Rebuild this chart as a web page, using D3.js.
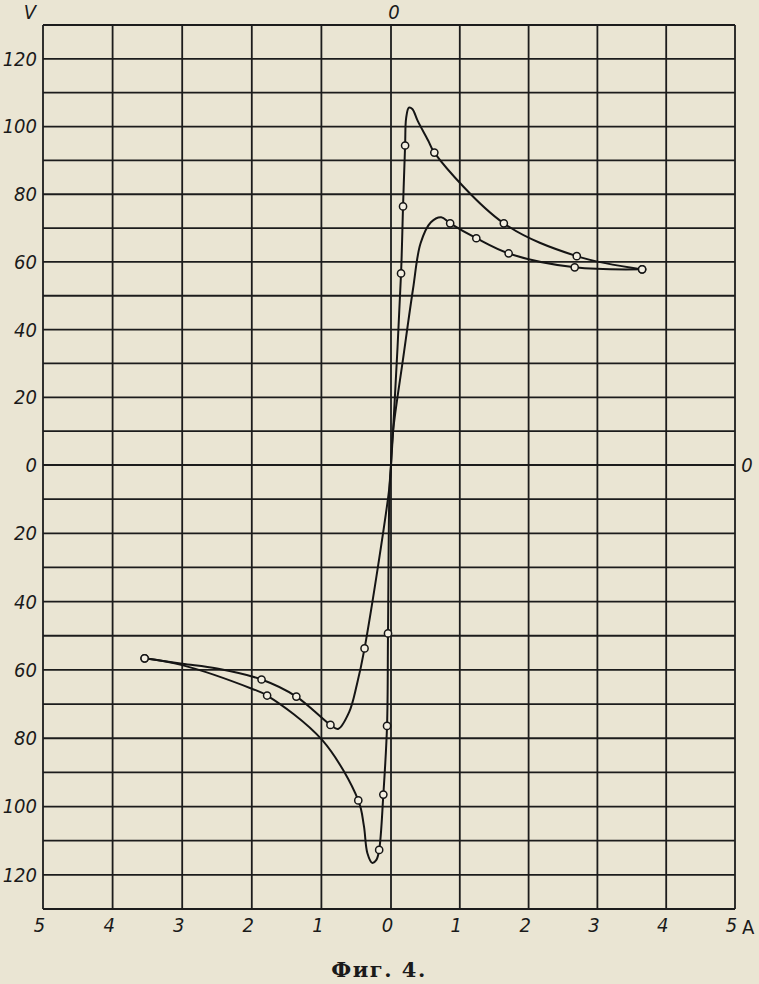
<!DOCTYPE html>
<meta charset="utf-8">
<style>
  body { margin: 0; padding: 0; background-color: #eae5d3; }
  svg { display: block; background-color: #eae5d3; }
  .grid line { stroke: #1c1c1c; stroke-width: 1.8px; }
  .lbl text, .lbl { font-family: "DejaVu Sans Condensed", "DejaVu Sans", sans-serif; font-stretch: condensed;
         font-style: italic; font-size: 20px; fill: #1a1a1a; }
  .curve { fill: none; stroke: #151515; stroke-width: 2px; }
  .point { fill: #f3efe2; stroke: #151515; stroke-width: 1.5px; }
  .caption { font-family: "DejaVu Serif", "Liberation Serif", serif; font-weight: bold; font-size: 21px;
             letter-spacing: 1.5px; fill: #1a1a1a; }
</style>
<body>
<svg id="vis"></svg>
<script src="https://d3js.org/d3.v7.min.js"></script>
<script>

var width = 759, height = 984;

// tick values
const ampTicks = [-5,-4,-3,-2,-1,0,1,2,3,4,5];
const voltTicks = [-120,-100,-80,-60,-40,-20,0,20,40,60,80,100,120];
const voltGrid = d3.range(-130, 131, 10);

// [A, V, measured point?]
// positive branch, steep rise, peak ~105 V
const posSteep = [[0,0,0],[0.03,10,0],[0.146,56.6,1],[0.175,76.4,1],[0.205,94.4,1],[0.22,102.5,0],[0.26,105.6,0],[0.31,105.2,0],
  [0.39,101.6,0],[0.54,95.9,0],[0.63,92.3,1],[1.64,71.4,1],[2.7,61.7,1],[3.65,57.8,1]];
// positive branch, gentle rise, peak ~73 V
const posGentle = [[0,0,0],[0.03,10,0],[0.18,32,0],[0.32,52,0],[0.43,65.5,0],[0.58,71.7,0],[0.73,73.2,0],[0.86,71.4,1],
  [1.24,67,1],[1.71,62.5,1],[2.67,58.4,1],[3.65,57.8,1]];
// negative branch, gentle, trough ~-77 V
const negGentle = [[0,0,0],[-0.02,-6,0],[-0.38,-53.7,1],[-0.49,-64.3,0],[-0.6,-72.3,0],[-0.76,-77.3,0],[-0.87,-76.1,1],
  [-1.36,-67.8,1],[-1.86,-62.8,1],[-2.5,-59.6,0],[-3,-58.2,0],[-3.54,-56.6,1]];
// negative branch, steep, trough ~-116 V
const negSteep = [[0,0,0],[-0.02,-6,0],[-0.043,-49.3,1],[-0.057,-76.4,1],[-0.11,-96.5,1],[-0.17,-112.7,1],[-0.21,-115.6,0],
  [-0.27,-116.5,0],[-0.34,-113.6,0],[-0.39,-105.6,0],[-0.47,-98.2,1],[-0.99,-80.5,0],[-1.78,-67.5,1],[-2,-65.5,0],
  [-3,-58.6,0],[-3.54,-56.6,1]];

var svg = d3.select("#vis").attr("width", width).attr("height", height);

var x = d3.scaleLinear().domain([-5, 0, 5]).range([43, 391, 735]);
var y = d3.scaleLinear().domain([-130, 0, 130]).range([909, 465, 25]);

// grid
var grid = svg.append("g").attr("class", "grid");
grid.selectAll(".v").data(ampTicks).enter().append("line")
  .attr("x1", d => x(d)).attr("x2", d => x(d))
  .attr("y1", y(130)).attr("y2", y(-130));
grid.selectAll(".h").data(voltGrid).enter().append("line")
  .attr("x1", x(-5)).attr("x2", x(5))
  .attr("y1", d => y(d)).attr("y2", d => y(d));

// axis labels
var yAxis = svg.append("g").attr("class", "lbl")
  .attr("transform", "translate(" + x(-5) + ",0)")
  .call(d3.axisLeft(y).tickValues(voltTicks).tickSize(0).tickPadding(6).tickFormat(d => Math.abs(d)));
yAxis.select(".domain").remove();

var xAxis = svg.append("g").attr("class", "lbl")
  .attr("transform", "translate(-4," + y(-130) + ")")
  .call(d3.axisBottom(x).tickValues(ampTicks).tickSize(0).tickPadding(9).tickFormat(d => Math.abs(d)));
xAxis.select(".domain").remove();
svg.selectAll(".lbl text").attr("font-family", null).attr("font-size", null);

svg.append("text").attr("class", "lbl").attr("x", 30).attr("y", 19).attr("text-anchor", "middle").text("V");
svg.append("text").attr("class", "lbl").attr("x", x(0) + 3).attr("y", 19).attr("text-anchor", "middle").text("0");
svg.append("text").attr("class", "lbl").attr("x", 747).attr("y", y(0) + 7).attr("text-anchor", "middle").text("0");
svg.append("text").attr("class", "lbl").attr("x", 742).attr("y", y(-130) + 25)
  .style("font-style", "normal").text("A");

// curves
var line = d3.line().x(d => x(d[0])).y(d => y(d[1])).curve(d3.curveCatmullRom.alpha(0.5));
var curves = [posSteep, posGentle, negGentle, negSteep];

svg.append("g").selectAll("path").data(curves).enter().append("path")
  .attr("class", "curve").attr("d", line);

var pts = [];
curves.forEach(c => c.forEach(p => { if (p[2]) pts.push(p); }));
svg.append("g").selectAll("circle").data(pts).enter().append("circle")
  .attr("class", "point")
  .attr("cx", d => x(d[0])).attr("cy", d => y(d[1])).attr("r", 3.6);

svg.append("text").attr("class", "caption").attr("x", 379).attr("y", 977)
  .attr("text-anchor", "middle").text("Фиг. 4.");

</script>
